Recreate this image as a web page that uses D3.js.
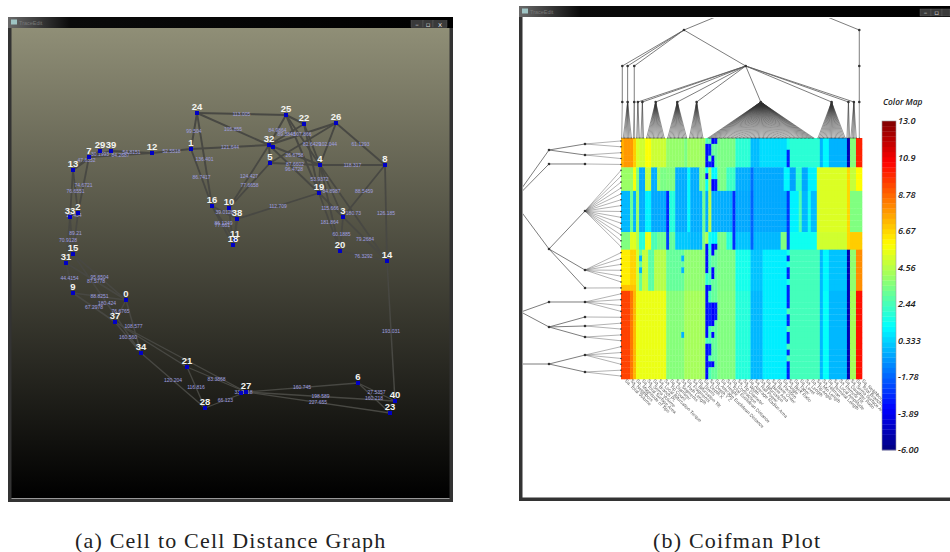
<!DOCTYPE html>
<html>
<head>
<meta charset="utf-8">
<script src="https://cdn.jsdelivr.net/npm/d3@7"></script>
<style>
body { margin: 0; background: #fff; }
svg { display: block; }
</style>
</head>
<body>
<svg width="950" height="552"></svg>
<script>
// ---- cell to cell distance graph ----
let nodeIds = ["0","1","2","3","4","5","6","7","8","9","10","11","12","13","14","15","16","18","19","20","21","22","23","24","25","26","27","28","29","31","32","33","34","37","38","39","40","",""];
let nodeX = [117,182,69,334,311,261,349,80,376,64,220,226,143,64,378,64,203,224,310,331,178,295,381,188,277,327,237,196,91,57,260,61,132,106,228,102,386,264,232];
let nodeY = [273,122,186,190,138,136,356,130,138,266,181,213,126,143,234,227,179,218,166,224,340,97,386,86,88,96,365,381,124,236,118,190,326,295,192,124,374,120,366];

let edges = [
  ["24","25","113.005"],["24","32","105.855"],["24","1","99.504"],["24","16","136.401"],["1","16","86.7417"],
  ["1","12","52.5518"],["1","32","121.644"],["12","39","54.8151"],["7","12","84.2687"],["7","39","30.1993"],
  ["7","29",""],["13","29","47.6352"],["7","13",""],["7","2","74.6721"],["13","2","76.6551"],["13","33",""],
  ["2","33","18.434"],["2","15","89.21"],["33","31","70.9128"],["33","15",""],["15","31",""],
  ["31","9","44.4154"],["15","0","95.6504"],["31","0","87.5778"],["9","0","88.8251"],["15","34","180.424"],
  ["9","37","67.2978"],["0","37","76.6765"],["0","34","108.577"],["37","34","160.560"],["34","28","120.204"],
  ["21","28","116.816"],["21","27","83.3868"],["28","27","66.123"],["37","21",""],["37","27",""],
  ["27","","33.3918"],["27","6","160.745"],["27","40","198.589"],["27","23","227.655"],["6","40","27.5357"],
  ["6","23","160.218"],["14","40","193.031"],["25","32","84.9864"],["22","32","89.3848"],["26","32","107.866"],
  ["22","4","82.6429"],["26","4","102.044"],["26","8","61.1293"],["32","4","26.6758"],["5","4","87.6602"],
  ["32","19","96.4728"],["4","19","53.9372"],["4","8","118.317"],["4","3","84.8987"],["8","3","88.5459"],
  ["4","20","115.666"],["19","20","181.864"],["4","14","180.73"],["8","14","126.185"],["3","20","60.1885"],
  ["3","14","79.2684"],["20","14","76.3292"],["32","10","124.427"],["5","10","77.6658"],["38","19","112.709"],
  ["16","38","39.0128"],["16","11","86.1249"],["16","18","77.601"],["10","38",""],["10","18",""],["38","18",""],
  ["38","11",""],["25","22",""],["25","19",""],["25","4",""],["22","19",""],["26","5",""],["19","3",""],["32","5",""]
];

// ---- coifman plot: each row band is a run list of [value, column count] ----
let bandTop = [[7.4,1],[7.8,3],[6.8,1],[5.2,1],[5,2],[5.8,2],[4.9,5],[3.9,6],[3.4,1],[4.1,6],[2.5,1],[2.8,1],[3,2],[3.4,6],[1.9,5],[-0.1,3],[0.5,9],[1.5,1],[1.9,10],[-0.3,1],[1,2],[-0.3,6],[-5,1],[3.6,2],[10,2]];
let bandGreen = [[4,4],[5.7,1],[3.5,1],[-0.5,2],[4.8,2],[-0.4,2],[4.2,1],[3.4,2],[3.5,3],[-0.4,4],[1,1],[-0.4,3],[3.6,2],[1.2,1],[4.2,1],[1,2],[3.4,3],[2.2,3],[-0.4,5],[-1.6,1],[-0.5,10],[1,2],[-0.6,2],[2,2],[-0.5,2],[0.9,3],[5.2,10],[6.6,1],[4.8,2],[5.9,2]];
let bandBlue = [[-0.2,3],[3,1],[-0.3,1],[4,1],[-0.4,2],[0.9,2],[-0.5,5],[-3,1],[1.8,2],[-0.4,4],[1,1],[-0.4,4],[3.2,1],[-0.4,1],[4.6,1],[-0.4,7],[-2.8,1],[-0.5,5],[-1.8,1],[-0.5,11],[-2.6,1],[0.9,3],[2.6,1],[-0.2,2],[1.4,1],[-0.1,2],[5.2,10],[6.6,1],[3.5,4]];
let bandMixed = [[3.5,3],[5.3,2],[4.4,1],[1.8,2],[5.5,2],[2.5,2],[3.2,3],[-2.5,1],[3,2],[0.1,5],[-0.2,4],[3.5,1],[4.4,1],[1.5,1],[1,2],[3.4,3],[1.8,2],[-2.8,1],[0,5],[-1.8,1],[-0.2,9],[3.5,2],[-2.6,1],[1.4,9],[5,10],[6.6,1],[6.8,4]];
let bandYellow = [[6.2,3],[6.7,2],[5,1],[3,1],[4.8,2],[2.8,2],[4.5,4],[3,6],[3.8,7],[2,1],[2.5,1],[3,2],[3.4,6],[1.5,5],[0,4],[0.8,8],[1.5,1],[2.4,10],[-0.2,1],[1,2],[0,6],[-5,1],[3.8,2],[8,2]];
let bandStep = [[7,5],[5,1],[3,1],[4.8,2],[2.8,2],[4.5,4],[3,6],[3.8,7],[2,1],[2.5,1],[3,2],[3.4,6],[1.5,5],[0,4],[0.8,8],[1.5,1],[2.4,10],[-0.2,1],[1,2],[0,6],[-5,1],[3.8,2],[8,2]];
let bandWarm = [[9.4,3],[8.4,1],[7.2,1],[5.6,1],[5.5,9],[3.6,6],[4.2,7],[2.5,2],[3,2],[3.5,6],[1.8,5],[-0.2,4],[0.8,8],[2.5,1],[2.4,10],[-0.2,1],[1.2,2],[-0.2,6],[-5,1],[4.2,2],[10.3,2]];
let bands = [bandTop, bandGreen, bandBlue, bandMixed, bandYellow, bandStep, bandWarm];
let bandRows = [5, 4, 7, 3, 6, 1, 15];

// the speckled columns: [column, value, rows]
let specks = [
  [28,-3.4,[1,2,3,4,6,18,19,20,21,22,25,26,27,28,29,30,31,32,33,35,36,37,38,39,40]],
  [29,-3,[1,2,4,25,28,29,30,31,35,36,38]],
  [30,-3.6,[0,3,4,7,8,18,19,22,23,28,29,30,31,33,38]],
  [31,-3.2,[0,7,8,18,28,29,30]],
  [55,-3,[2,3,4,20,22,23,25,26,27,28,30,31,33,34,36,38,39,40]],
  [6,-0.3,[20,22]],
  [20,-0.3,[20,22,33]]
];

let colorTicks = ["13.0","10.9","8.78","6.67","4.56","2.44","0.333","-1.78","-3.89","-6.00"];
let featureNames = ["Sa. Total Volume","Sa. Neighbors","Sa. Magnitude of Tips","Sa. Total Surface Area","Sa. Soma Volume","Sa. Branch Pt.","Sa. Local Bifurcation Torque","Sa. Tip Count","Sa. Diameter","Sa. Segments","Sa. Path Length","Sa. Fragments","Sa. Bifurcation Tilt","Sa. Stems","Sa. Depth X","Sa. Depth Y Z","Sa. Average Euclidean Distance","Sa. Height","Sa. Total Euclidean Distance","Sa. Contraction","Sa. Tip Diameter","Sa. Width","Sa. Average Radius Area","Sa. Rall Power","Sa. Bifurcation","Sa. Base Area","Sa. Base Order","Sa. Partition","Sa. Angle","Sa. Burk Ratio","Sa. Taper","Sa. Level","Sa. Length","Sa. Tip Angle","Sa. Min Length","Sa. Hillman","Sa. Terminal Length","Sa. Local Amplitude","Sa. Remote Tilt","Sa. Daughter Ratio","Sa. Soma Surface Area","Sa. Total Branch Area","Sa. Neighbors Area"];

// column positions of the dendrogram fans above the heat map
let topFans = [[1,0.25,0.25],[1,2.2,0.75,3.75],[1,4.4,4.1,4.9],[1,5.6,5.2,6.3],[1,7.1,6.6,7.7],[1,11.5,8.5,14.6],[1,18.7,15.5,21.8],[1,25.1,22.7,27.5],[1,46.4,28.9,64.4],[1,69.9,65.4,74.4],[1,75.5,75,76],[1,77.3,76.3,78.3],[1,79.1,79.1,79.1]];

function tree(level, pos, children) {
  return { level: level, pos: pos, children: children };
}
// leaves from a to b, every step
function leaves(a, b, step) {
  let out = [];
  for (let p = a; p <= b + 0.001; p += step) out.push({ level: 0, pos: p });
  return out;
}
function fan(f) {
  let span = f.length > 3 ? leaves(f[2], f[3], 0.45) : leaves(f[2], f[2], 1);
  return tree(f[0], f[1], span);
}

let topTree = tree(4, 49.8, [
  tree(3, 20.9, [
    tree(2, 0.43, [fan([1, 0.43, 0.25])]),
    tree(2, 2.2, [fan(topFans[1])]),
    tree(2, 4.4, [fan(topFans[2])]),
    tree(2, 41.4, topFans.slice(3, 12).map(fan))
  ]),
  tree(3, 79.1, [tree(2, 79.1, [fan(topFans[12])])])
]);

let leftTree = tree(4, 20, [
  tree(3, 10.65, [
    tree(2, 2.04, [tree(1, 1.02, leaves(0.5, 1.5, 1)), tree(1, 2.89, leaves(2.5, 3.5, 1))]),
    tree(2, 4.42, [tree(1, 4.42, leaves(4.5, 4.5, 1))]),
    tree(2, 18.88, [
      tree(1, 12.42, leaves(5.5, 18.5, 1)),
      tree(1, 22.46, leaves(19.5, 24.5, 1)),
      tree(1, 25.52, leaves(25.5, 25.5, 1))
    ])
  ]),
  tree(2.78, 29.6, [
    tree(2, 27.9, [tree(1, 27.9, leaves(26.5, 29.5, 1))]),
    tree(2, 32.15, [
      tree(1, 30.45, leaves(30.5, 30.5, 1)),
      tree(1, 31.98, leaves(31.5, 32.5, 1)),
      tree(1, 33.86, leaves(33.5, 34.5, 1))
    ])
  ]),
  tree(3, 38.45, [tree(2, 38.45, [
    tree(1, 36.92, leaves(35.5, 38.5, 1)),
    tree(1, 39.81, leaves(39.5, 40.5, 1))
  ])])
]);

let svg = d3.select("svg");
let defs = svg.append("defs");

let bgGrad = defs.append("linearGradient").attr("id", "bg").attr("x1", 0).attr("x2", 0).attr("y1", 0).attr("y2", 1);
bgGrad.append("stop").attr("offset", 0).attr("stop-color", "#908f77");
bgGrad.append("stop").attr("offset", 1).attr("stop-color", "#000");

let barGrad = defs.append("linearGradient").attr("id", "bar");
barGrad.append("stop").attr("offset", 0).attr("stop-color", "#6a6a6a");
barGrad.append("stop").attr("offset", 0.14).attr("stop-color", "#0a0a0a");
barGrad.append("stop").attr("offset", 1).attr("stop-color", "#000");

defs.append("clipPath").attr("id", "client").append("rect")
  .attr("x", 523).attr("y", 18).attr("width", 427).attr("height", 480);

// ---- left panel ----
let gx = d3.scaleLinear().domain([0, 444]).range([9, 453]);
let gy = d3.scaleLinear().domain([0, 474]).range([27, 501]);
let edgeWidth = d3.scaleLinear().domain([100, 370]).range([2, 1.3]);

svg.append("rect").attr("x", 11).attr("y", 27).attr("width", 439).attr("height", 471).attr("fill", "url(#bg)");

let nodeIndex = new Map(nodeIds.map((id, i) => [id, i]));
function nodeOf(id) {
  return id === "" ? nodeIds.length - 1 : nodeIndex.get(id);
}

let graph = svg.append("g");
graph.selectAll("line").data(edges).enter().append("line")
  .attr("x1", d => gx(nodeX[nodeOf(d[0])]))
  .attr("y1", d => gy(nodeY[nodeOf(d[0])]))
  .attr("x2", d => gx(nodeX[nodeOf(d[1])]))
  .attr("y2", d => gy(nodeY[nodeOf(d[1])]))
  .attr("stroke", "#484843")
  .attr("stroke-width", d => edgeWidth((nodeY[nodeOf(d[0])] + nodeY[nodeOf(d[1])]) / 2));

graph.selectAll(".edge-label").data(edges.filter(d => d[2] !== "")).enter().append("text")
  .attr("class", "edge-label")
  .attr("x", d => gx((nodeX[nodeOf(d[0])] + nodeX[nodeOf(d[1])]) / 2))
  .attr("y", d => gy((nodeY[nodeOf(d[0])] + nodeY[nodeOf(d[1])]) / 2) + 1.8)
  .attr("text-anchor", "middle")
  .attr("font-family", "Liberation Sans")
  .attr("font-size", 5)
  .attr("fill", "#a0a0e0")
  .text(d => d[2]);

graph.selectAll("rect").data(nodeIds).enter().append("rect")
  .attr("x", (d, i) => gx(nodeX[i]) - 2)
  .attr("y", (d, i) => gy(nodeY[i]) - 2)
  .attr("width", 4)
  .attr("height", 4)
  .attr("fill", "#0000c4");

graph.selectAll(".node-label").data(nodeIds).enter().append("text")
  .attr("class", "node-label")
  .attr("x", (d, i) => gx(nodeX[i]))
  .attr("y", (d, i) => gy(nodeY[i]) - 3)
  .attr("text-anchor", "middle")
  .attr("font-family", "Liberation Sans")
  .attr("font-weight", "bold")
  .attr("font-size", 9.5)
  .attr("fill", "#f4f4f0")
  .text(d => d);

// ---- right panel ----
let colX = d3.scaleLinear().domain([0, 80]).range([621, 862]);
let rowY = d3.scaleLinear().domain([0, 41]).range([138, 379]);
let color = d3.scaleLinear()
  .domain([-6, -3.625, 1.125, 5.875, 10.625, 13])
  .range(["#00007f", "#0000ff", "#00ffff", "#ffff00", "#ff0000", "#7f0000"]);

let profiles = bands.map(runs => runs.flatMap(r => d3.range(r[1]).map(() => r[0])));
let rowProfile = bandRows.flatMap((n, b) => d3.range(n).map(() => b));
let cells = [];
rowProfile.forEach((b, r) => profiles[b].forEach((v, c) => cells.push({ r: r, c: c, v: v })));
specks.forEach(s => s[2].forEach(r => { cells[r * 80 + s[0]].v = s[1]; }));

svg.append("rect").attr("x", 523).attr("y", 18).attr("width", 427).attr("height", 480).attr("fill", "#fff");

svg.append("g").selectAll("rect").data(cells).enter().append("rect")
  .attr("x", d => colX(d.c))
  .attr("y", d => rowY(d.r))
  .attr("width", colX(1) - colX(0) + 0.3)
  .attr("height", rowY(1) - rowY(0) + 0.3)
  .attr("fill", d => color(d.v));

function drawTree(root, px, py, leafR, leafLine) {
  let h = d3.hierarchy(root);
  let g = svg.append("g").attr("clip-path", "url(#client)");
  g.selectAll("line").data(h.links()).enter().append("line")
    .attr("x1", d => px(d.source.data))
    .attr("y1", d => py(d.source.data))
    .attr("x2", d => px(d.target.data))
    .attr("y2", d => py(d.target.data))
    .attr("stroke", d => d.target.data.level === 0 ? leafLine : "#5c5c5c")
    .attr("stroke-width", d => d.target.data.level === 0 ? 0.5 : 0.8);
  g.selectAll("circle").data(h.descendants()).enter().append("circle")
    .attr("cx", d => px(d.data))
    .attr("cy", d => py(d.data))
    .attr("r", d => d.data.level === 0 ? leafR : 1.3)
    .attr("fill", "#333");
}

let topY = d3.scaleLinear().domain([0, 4]).range([138, -6]);
let leftX = d3.scaleLinear().domain([0, 4]).range([621, 477]);
drawTree(topTree, d => colX(d.pos), d => topY(d.level), 0.5, "#333");
drawTree(leftTree, d => leftX(d.level), d => rowY(d.pos), 0.8, "#666");

// feature names under the heat map
let featureX = d3.scalePoint().domain(d3.range(featureNames.length)).range([623, 860]);
let featureAxis = svg.append("g")
  .attr("transform", "translate(0,379)")
  .style("filter", "blur(0.2px)")
  .call(d3.axisBottom(featureX).tickSize(0).tickFormat(i => featureNames[i]));
featureAxis.select(".domain").remove();
featureAxis.selectAll("text")
  .attr("font-family", "Liberation Sans")
  .attr("font-size", 4.7)
  .attr("fill", "#555")
  .attr("text-anchor", "start")
  .attr("x", 0)
  .attr("y", 0)
  .attr("dy", 0)
  .attr("transform", "translate(1,2) rotate(45)");

// colour bar
let barY = d3.scaleLinear().domain([-6, 13]).range([450, 121]);
let barSteps = d3.range(64).map(i => -6 + (i + 0.5) * 19 / 64);
svg.append("g").selectAll("rect").data(barSteps).enter().append("rect")
  .attr("x", 882)
  .attr("y", d => barY(d + 19 / 128))
  .attr("width", 14)
  .attr("height", barY(0) - barY(19 / 64) + 0.3)
  .attr("fill", d => color(d));
svg.append("rect").attr("x", 882).attr("y", 121).attr("width", 14).attr("height", 329)
  .attr("fill", "none").attr("stroke", "#999").attr("stroke-width", 0.6);

let barAxis = svg.append("g")
  .attr("transform", "translate(896,0)")
  .call(d3.axisRight(barY).tickValues(colorTicks.map(Number)).tickSize(0).tickPadding(2).tickFormat((d, i) => colorTicks[i]));
barAxis.select(".domain").remove();
barAxis.selectAll("text")
  .attr("font-family", "Open Sans")
  .attr("font-style", "italic")
  .attr("font-weight", 600)
  .attr("font-size", 9.2)
  .attr("fill", "#222");

svg.append("text").attr("x", 883).attr("y", 105)
  .attr("font-family", "Open Sans").attr("font-style", "italic").attr("font-weight", 600)
  .attr("font-size", 8.4).attr("fill", "#222").text("Color Map");

// ---- window frames ----
function drawWindow(x, y, w, h, title) {
  let g = svg.append("g");
  g.append("rect").attr("x", x).attr("y", y).attr("width", w).attr("height", 11).attr("fill", "url(#bar)");
  g.append("rect").attr("x", x).attr("y", y + 11).attr("width", 3.5).attr("height", h - 11).attr("fill", "#333");
  g.append("rect").attr("x", x + w - 3.5).attr("y", y + 11).attr("width", 3.5).attr("height", h - 11).attr("fill", "#333");
  g.append("rect").attr("x", x).attr("y", y + h - 3.5).attr("width", w).attr("height", 3.5).attr("fill", "#333");
  g.append("rect").attr("x", x + 3).attr("y", y + 2.5).attr("width", 6).attr("height", 5).attr("fill", "#9fc4c4");
  g.append("text").attr("x", x + 11).attr("y", y + 7.5).attr("font-family", "Liberation Sans")
    .attr("font-size", 5.5).attr("fill", "#777").text(title);
}
drawWindow(8, 17, 445, 485, "TraceEdit");
drawWindow(519, 6, 436, 495, "TraceEdit");

// window buttons
let buttons = [[411, 20.5, 12], [423, 20.5, 10], [433, 20.5, 14], [920, 9, 11], [931, 9, 11], [942, 9, 8]];
let marks = ["\u2013", "\u25ab", "x", "\u2013", "\u25ab", ""];
svg.append("g").selectAll("rect").data(buttons).enter().append("rect")
  .attr("x", d => d[0]).attr("y", d => d[1]).attr("width", d => d[2]).attr("height", 7)
  .attr("fill", "#3a3a3a").attr("stroke", "#666").attr("stroke-width", 0.4);
svg.append("g").selectAll("text").data(buttons).enter().append("text")
  .attr("x", d => d[0] + d[2] / 2).attr("y", d => d[1] + 6)
  .attr("text-anchor", "middle").attr("font-family", "DejaVu Sans").attr("font-size", 7).attr("fill", "#ddd")
  .text((d, i) => marks[i]);

// captions
svg.append("text").attr("x", 75).attr("y", 548)
  .attr("font-family", "Liberation Serif").attr("font-size", 22).attr("letter-spacing", 1.2).attr("fill", "#222")
  .text("(a) Cell to Cell Distance Graph");
svg.append("text").attr("x", 653).attr("y", 548)
  .attr("font-family", "Liberation Serif").attr("font-size", 22).attr("letter-spacing", 1.2).attr("fill", "#222")
  .text("(b) Coifman Plot");
</script>
</body>
</html>
